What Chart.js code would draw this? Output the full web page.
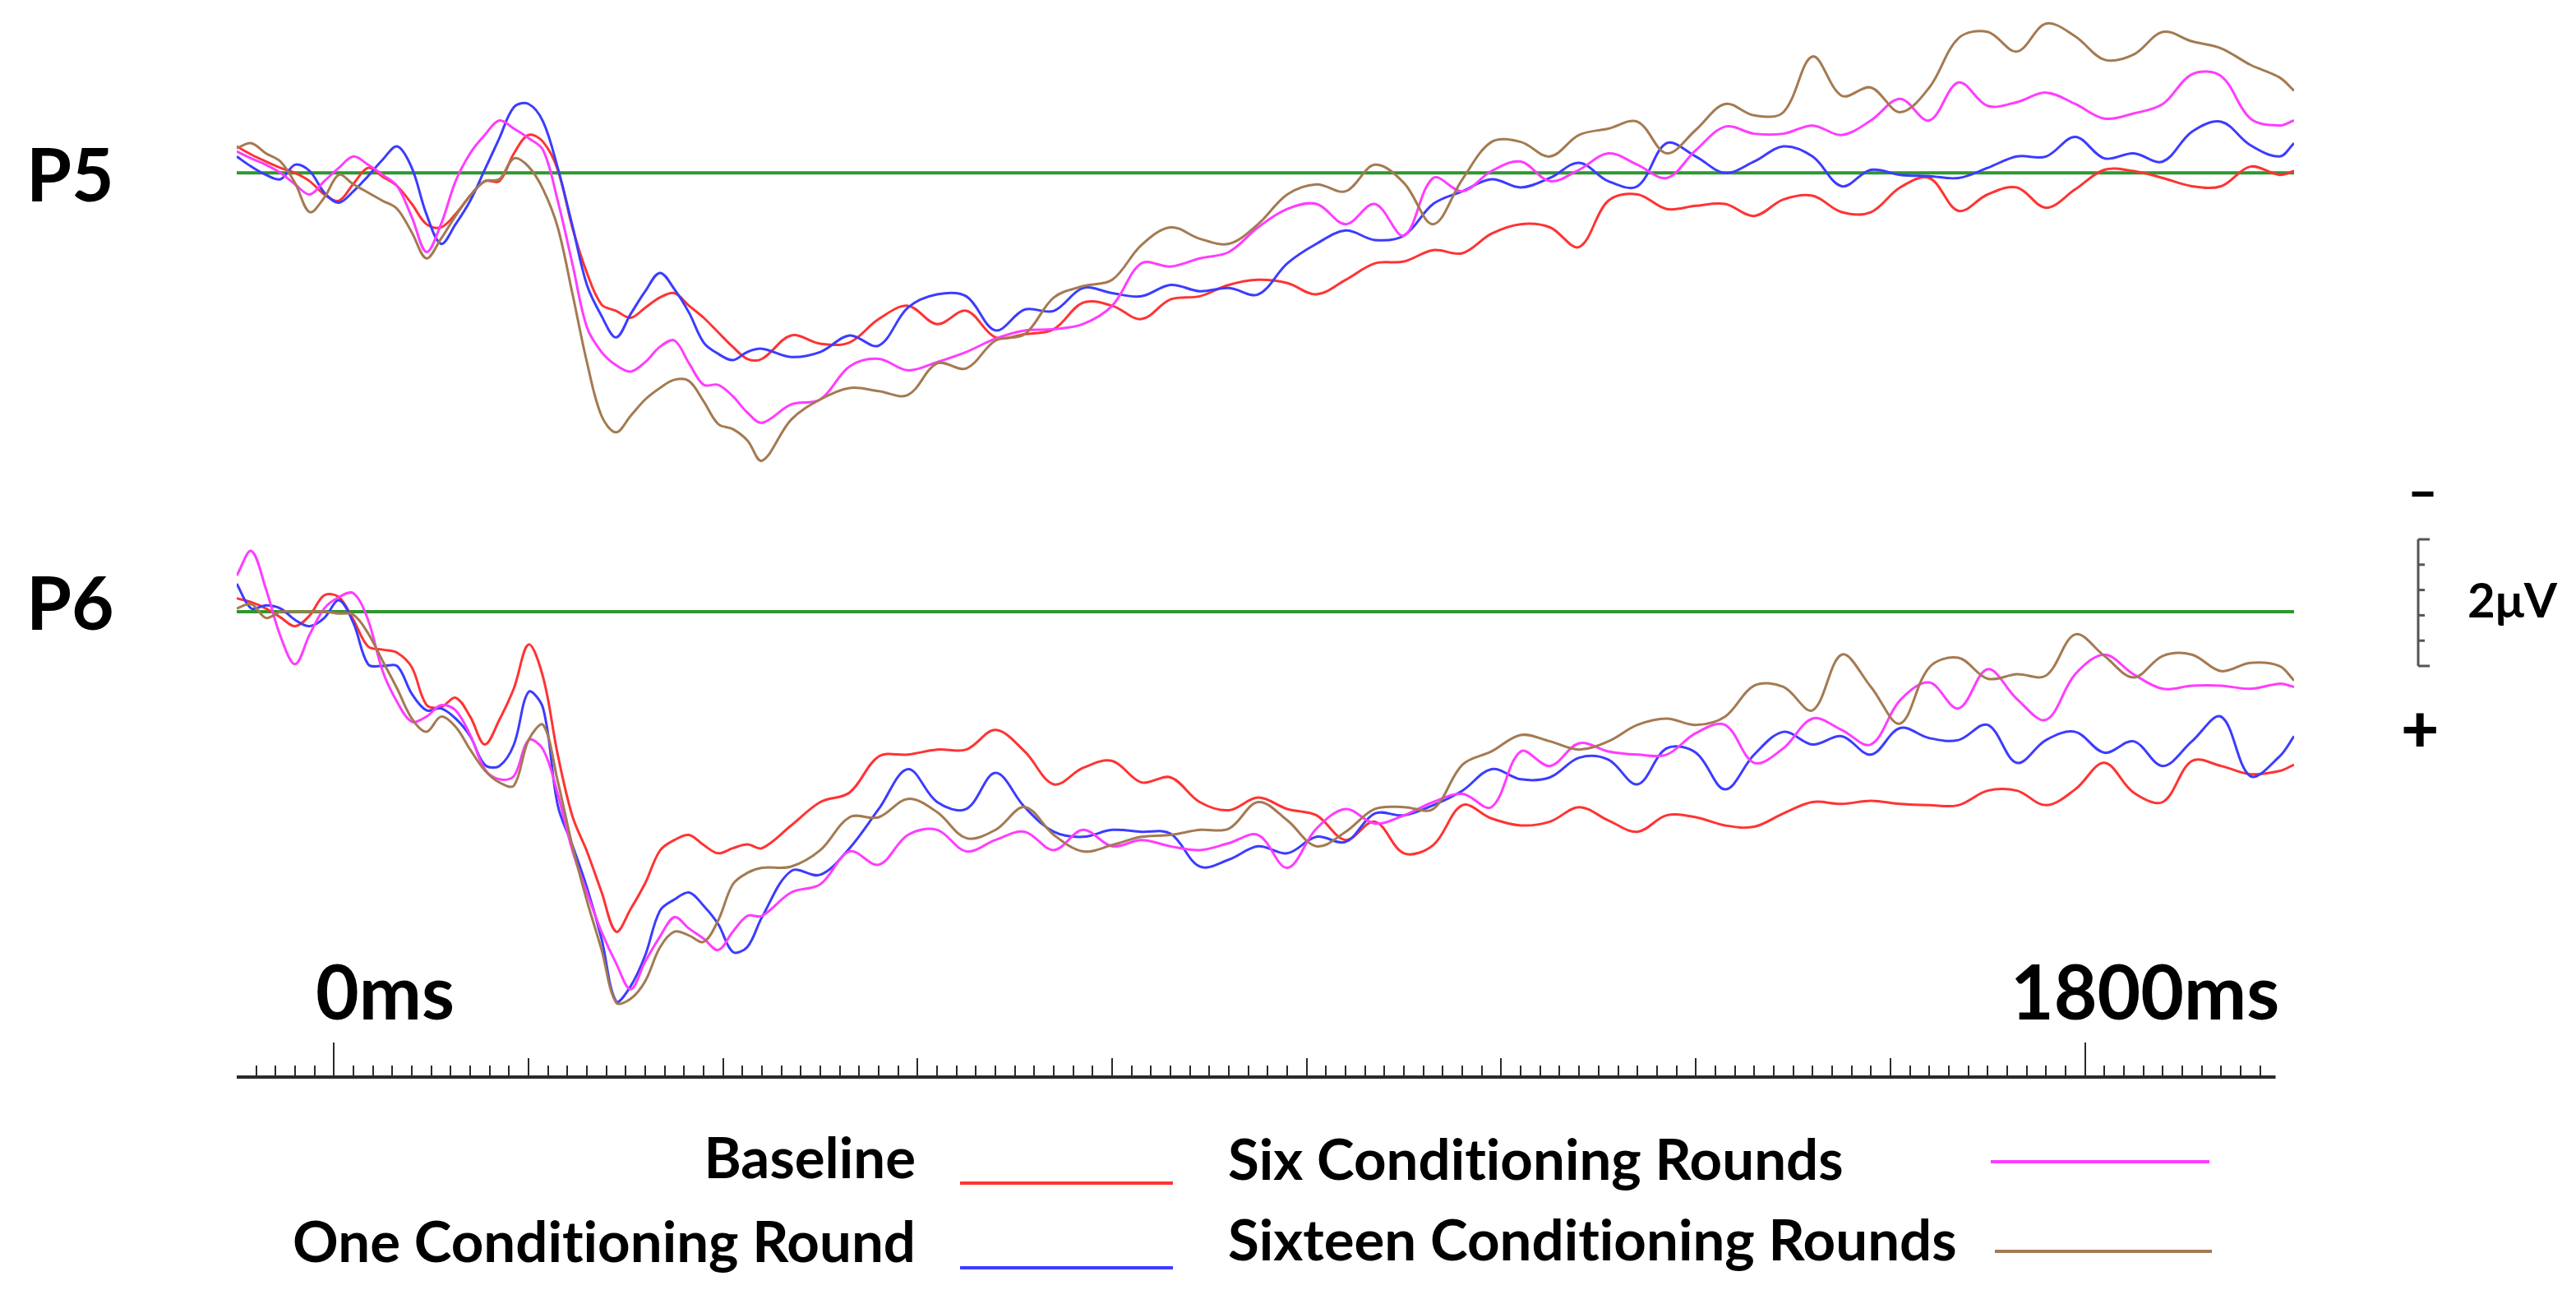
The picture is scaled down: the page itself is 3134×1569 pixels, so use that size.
<!DOCTYPE html>
<html>
<head>
<meta charset="utf-8">
<title>P5 / P6 waveforms</title>
<script src="https://cdn.jsdelivr.net/npm/chart.js@4.4.1/dist/chart.umd.min.js"></script>
<style>
  html, body { margin: 0; padding: 0; background: #fff; }
  #page {
    position: relative; width: 3134px; height: 1569px; overflow: hidden; background: #fff;
    font-family: Lato, "Open Sans", sans-serif; font-weight: 700; color: #000;
    font-variant-ligatures: none;
  }
  #page canvas { position: absolute; }
  .lbl { position: absolute; line-height: 1; white-space: nowrap; }
  .key { position: absolute; height: 4px; }
</style>
</head>
<body>
<div id="page">
  <canvas id="p5" width="2503" height="577" style="left:288px; top:18px"></canvas>
  <canvas id="p6" width="2503" height="577" style="left:288px; top:667px"></canvas>
  <canvas id="ruler" width="2503" height="90" style="left:288px; top:1240px"></canvas>
  <canvas id="bar" width="40" height="166" style="left:2930px; top:650px"></canvas>
</div>
<script>
// Time points (ms) shared by every waveform; denser where the early components move fast.
const times = [-100, -85, -70, -55, -40, -25, -10, 5, 20, 35, 50, 65, 80, 95, 110, 125, 140, 155, 170,
    185, 200, 215, 230, 245, 260, 275, 290, 305, 320, 335, 350, 365, 380, 395, 410, 425, 440,
    470, 500, 530, 560, 590, 620, 650, 680, 710, 740, 770, 800, 830, 860, 890, 920, 950, 980, 1010,
    1040, 1070, 1100, 1130, 1160, 1190, 1220, 1250, 1280, 1310, 1340, 1370, 1400, 1430, 1460, 1490, 1520,
    1550, 1580, 1610, 1640, 1670, 1700, 1730, 1760, 1790, 1820, 1850, 1880, 1910, 1940, 1970, 2000, 2015];

const seriesNames = ['Baseline', 'One Conditioning Round', 'Six Conditioning Rounds', 'Sixteen Conditioning Rounds'];
const seriesColors = ['#ff3333', '#3c3cff', '#ff3cff', '#a47a52'];
const zeroColor = '#2f962f';

// Amplitudes in microvolts (negative plotted upward).
const p5Baseline = [-0.42, -0.29, -0.18, -0.08, 0.00, 0.13, 0.34, 0.44, 0.17, -0.08,
    0.06, 0.21, 0.49, 0.81, 0.86, 0.65, 0.36, 0.13, 0.13, -0.31,
    -0.60, -0.49, -0.05, 0.86, 1.58, 2.08, 2.18, 2.29, 2.13, 1.97,
    1.90, 2.10, 2.29, 2.52, 2.75, 2.94, 2.94,
    2.57, 2.70, 2.68, 2.31, 2.10, 2.39, 2.18, 2.60, 2.55, 2.47, 2.05,
    2.10, 2.31, 2.00, 1.95, 1.77, 1.69, 1.74, 1.92, 1.69, 1.43,
    1.40, 1.22, 1.27, 0.96, 0.81, 0.86, 1.17, 0.44, 0.34, 0.57,
    0.52, 0.49, 0.68, 0.42, 0.36, 0.62, 0.62, 0.23, 0.08, 0.60,
    0.34, 0.23, 0.55, 0.26, -0.05, -0.03, 0.08, 0.21, 0.21, -0.10,
    0.03, -0.03];
const p5One = [-0.26, -0.10, 0.03, 0.10, -0.13, -0.03, 0.31, 0.47, 0.29, 0.05,
    -0.21, -0.42, -0.08, 0.65, 1.12, 0.81, 0.44, -0.05, -0.55, -1.04,
    -1.09, -0.81, -0.08, 0.83, 1.77, 2.26, 2.60, 2.23, 1.87, 1.58,
    1.84, 2.21, 2.68, 2.86, 2.96, 2.83, 2.78,
    2.91, 2.83, 2.57, 2.73, 2.13, 1.92, 1.95, 2.49, 2.16, 2.18, 1.82,
    1.90, 1.95, 1.77, 1.87, 1.82, 1.92, 1.43, 1.12, 0.91, 1.06,
    0.99, 0.49, 0.29, 0.10, 0.23, 0.08, -0.16, 0.13, 0.21, -0.47,
    -0.26, 0.00, -0.18, -0.42, -0.26, 0.21, -0.05, 0.03, 0.05, 0.08,
    -0.08, -0.26, -0.26, -0.57, -0.23, -0.31, -0.18, -0.65, -0.81, -0.44,
    -0.26, -0.47];
const p5Six = [-0.34, -0.23, -0.13, 0.00, 0.18, 0.34, 0.13, -0.08, -0.26, -0.13,
    0.03, 0.21, 0.70, 1.25, 0.81, 0.13, -0.31, -0.60, -0.83, -0.70,
    -0.55, -0.36, 0.44, 1.43, 2.44, 2.83, 3.04, 3.14, 2.99, 2.75,
    2.65, 3.01, 3.35, 3.35, 3.53, 3.79, 3.95,
    3.66, 3.58, 3.06, 2.94, 3.12, 2.99, 2.83, 2.62, 2.49, 2.47, 2.39,
    2.10, 1.43, 1.48, 1.35, 1.25, 0.86, 0.57, 0.49, 0.81, 0.49,
    0.99, 0.08, 0.29, -0.03, -0.18, 0.13, -0.05, -0.31, -0.13, 0.08,
    -0.36, -0.73, -0.62, -0.62, -0.75, -0.60, -0.83, -1.17, -0.83, -1.43,
    -1.06, -1.12, -1.27, -1.09, -0.86, -0.94, -1.09, -1.56, -1.53, -0.86,
    -0.75, -0.83];
const p5Sixteen = [-0.39, -0.47, -0.31, -0.18, 0.16, 0.62, 0.39, 0.03, 0.18, 0.31,
    0.44, 0.57, 0.94, 1.35, 1.04, 0.68, 0.36, 0.13, 0.10, -0.23,
    -0.10, 0.26, 0.86, 1.90, 2.99, 3.84, 4.10, 3.84, 3.58, 3.40,
    3.27, 3.29, 3.61, 3.97, 4.05, 4.23, 4.55,
    3.90, 3.58, 3.40, 3.45, 3.51, 3.01, 3.09, 2.65, 2.55, 1.97, 1.79,
    1.69, 1.14, 0.86, 1.04, 1.12, 0.81, 0.34, 0.18, 0.29, -0.13,
    0.16, 0.81, 0.10, -0.49, -0.49, -0.26, -0.60, -0.70, -0.81, -0.31,
    -0.68, -1.09, -0.91, -0.96, -1.84, -1.22, -1.35, -0.96, -1.35, -2.13,
    -2.23, -1.92, -2.36, -2.16, -1.79, -1.87, -2.23, -2.08, -1.97, -1.71,
    -1.51, -1.30];

const p6Baseline = [-0.21, -0.15, -0.05, 0.09, 0.23, 0.06, -0.26, -0.23, 0.13, 0.55,
    0.60, 0.65, 0.88, 1.47, 1.51, 1.36, 1.66, 2.10, 1.71, 1.21,
    0.52, 1.04, 2.26, 3.23, 3.79, 4.43, 5.06, 4.70, 4.29, 3.78,
    3.61, 3.53, 3.69, 3.82, 3.74, 3.68, 3.74,
    3.38, 3.01, 2.86, 2.29, 2.26, 2.18, 2.18, 1.87, 2.21, 2.73, 2.47,
    2.36, 2.70, 2.62, 3.01, 3.14, 2.94, 3.12, 3.22, 3.61, 3.32,
    3.82, 3.69, 3.06, 3.27, 3.38, 3.32, 3.09, 3.30, 3.48, 3.22,
    3.25, 3.38, 3.40, 3.19, 3.01, 3.04, 2.99, 3.04, 3.06, 3.06,
    2.83, 2.83, 3.06, 2.81, 2.39, 2.86, 3.01, 2.36, 2.44, 2.57,
    2.52, 2.42];
const p6One = [-0.44, -0.05, -0.10, -0.05, 0.13, 0.23, 0.10, -0.18, 0.18, 0.83,
    0.86, 0.86, 1.30, 1.56, 1.53, 1.69, 1.97, 2.42, 2.44, 2.10,
    1.27, 1.53, 3.06, 3.69, 4.36, 5.17, 6.16, 5.92, 5.43, 4.73,
    4.55, 4.44, 4.65, 4.94, 5.38, 5.30, 4.83,
    4.10, 4.16, 3.74, 3.12, 2.49, 3.01, 3.12, 2.55, 3.09, 3.48, 3.56,
    3.45, 3.48, 3.51, 4.03, 3.92, 3.71, 3.82, 3.56, 3.64, 3.19,
    3.22, 3.06, 2.83, 2.49, 2.65, 2.62, 2.31, 2.34, 2.73, 2.16,
    2.23, 2.81, 2.26, 1.90, 2.10, 1.97, 2.26, 1.84, 2.00, 2.03,
    1.79, 2.39, 2.03, 1.90, 2.23, 2.05, 2.44, 2.05, 1.66, 2.60,
    2.29, 1.97];
const p6Six = [-0.57, -0.96, -0.36, 0.39, 0.83, 0.36, -0.05, -0.23, -0.29, 0.13,
    0.94, 1.43, 1.74, 1.66, 1.48, 1.56, 1.95, 2.49, 2.65, 2.60,
    2.03, 2.18, 2.88, 3.77, 4.44, 5.06, 5.56, 5.97, 5.53, 5.14,
    4.83, 5.01, 5.17, 5.35, 5.06, 4.81, 4.81,
    4.44, 4.31, 3.79, 4.00, 3.53, 3.45, 3.79, 3.61, 3.48, 3.77, 3.45,
    3.71, 3.61, 3.71, 3.77, 3.66, 3.53, 4.05, 3.43, 3.12, 3.35,
    3.22, 3.01, 2.88, 3.09, 2.21, 2.44, 2.08, 2.21, 2.26, 2.26,
    1.92, 1.79, 2.39, 2.16, 1.69, 1.87, 2.10, 1.40, 1.12, 1.53,
    0.91, 1.38, 1.71, 0.99, 0.68, 0.99, 1.22, 1.17, 1.17, 1.22,
    1.14, 1.19];
const p6Sixteen = [-0.05, -0.12, 0.10, 0.00, 0.00, 0.00, 0.00, 0.03, 0.05, 0.34,
    0.78, 1.22, 1.69, 1.90, 1.66, 1.82, 2.18, 2.51, 2.70, 2.75,
    2.03, 1.79, 2.68, 3.70, 4.57, 5.34, 6.18, 6.12, 5.84, 5.31,
    5.06, 5.12, 5.22, 4.88, 4.31, 4.13, 4.05,
    4.03, 3.77, 3.25, 3.25, 2.96, 3.17, 3.58, 3.45, 3.09, 3.53, 3.79,
    3.69, 3.56, 3.53, 3.45, 3.43, 3.01, 3.30, 3.71, 3.48, 3.12,
    3.09, 3.12, 2.42, 2.21, 1.95, 2.05, 2.18, 2.05, 1.79, 1.69,
    1.79, 1.66, 1.17, 1.19, 1.56, 0.68, 1.19, 1.77, 0.88, 0.73,
    1.06, 0.99, 1.01, 0.36, 0.70, 1.04, 0.70, 0.68, 0.94, 0.81,
    0.86, 1.09];

// Time ruler (ms) and voltage scale bar (µV).
const rulerRange = [-100, 1996];
const rulerStep = 20;
const rulerMidStep = 200;
const rulerLabelled = [0, 1800];
const scaleBarSpan = 2;
const scaleBarStep = 0.4;

const xMin = -100;
const xMax = 2015;

function panelChart(id, series, yMin, yMax) {
    const datasets = series.map((vals, i) => ({
        label: seriesNames[i],
        data: times.map((t, k) => ({ x: t, y: vals[k] })),
        borderColor: seriesColors[i],
        borderWidth: 3,
        pointRadius: 0,
        tension: 0.35,
        order: 4 - i
    }));
    datasets.push({
        label: 'zero',
        data: [{ x: times[0], y: 0 }, { x: times[times.length - 1], y: 0 }],
        borderColor: zeroColor,
        borderWidth: 4,
        pointRadius: 0,
        order: 10
    });
    return new Chart(document.getElementById(id), {
        type: 'line',
        data: { datasets },
        options: {
            responsive: false,
            animation: false,
            devicePixelRatio: 1,
            layout: { padding: 0 },
            plugins: { legend: { display: false }, tooltip: { enabled: false } },
            scales: {
                x: { type: 'linear', min: xMin, max: xMax, display: false },
                y: { min: yMin, max: yMax, reverse: true, display: false }
            }
        }
    });
}

const rulerPlugin = {
    id: 'ruler',
    afterDraw(chart) {
        const { ctx, chartArea, scales } = chart;
        const x = scales.x;
        const y0 = chartArea.bottom;
        ctx.save();
        ctx.strokeStyle = '#2a2a2a';
        ctx.lineWidth = 4;
        ctx.beginPath();
        ctx.moveTo(x.getPixelForValue(rulerRange[0]), y0);
        ctx.lineTo(x.getPixelForValue(rulerRange[1]), y0);
        ctx.stroke();
        ctx.lineWidth = 2;
        for (let t = rulerRange[0] + rulerStep; t < rulerRange[1]; t += rulerStep) {
            const len = rulerLabelled.includes(t) ? 42 : (t % rulerMidStep === 0 ? 23 : 14);
            const px = Math.round(x.getPixelForValue(t));
            ctx.beginPath();
            ctx.moveTo(px, y0);
            ctx.lineTo(px, y0 - len);
            ctx.stroke();
        }
        ctx.restore();
    }
};

const scaleBarPlugin = {
    id: 'scaleBar',
    afterDraw(chart) {
        const { ctx, chartArea, scales } = chart;
        const y = scales.y;
        const x0 = chartArea.left;
        ctx.save();
        ctx.strokeStyle = '#555';
        ctx.lineWidth = 3;
        ctx.beginPath();
        ctx.moveTo(x0, y.getPixelForValue(0));
        ctx.lineTo(x0, y.getPixelForValue(scaleBarSpan));
        ctx.stroke();
        const n = Math.round(scaleBarSpan / scaleBarStep);
        for (let i = 0; i <= n; i++) {
            const py = y.getPixelForValue(i * scaleBarStep);
            const len = (i === 0 || i === n) ? 14 : 8;
            ctx.beginPath();
            ctx.moveTo(x0, py);
            ctx.lineTo(x0 + len, py);
            ctx.stroke();
        }
        ctx.restore();
    }
};

panelChart('p5', [p5Baseline, p5One, p5Six, p5Sixteen], -2.5, 5);
panelChart('p6', [p6Baseline, p6One, p6Six, p6Sixteen], -1, 6.5);

new Chart(document.getElementById('ruler'), {
    type: 'line',
    data: { datasets: [] },
    options: {
        responsive: false, animation: false, devicePixelRatio: 1,
        layout: { padding: { left: 0, right: 0, top: 0, bottom: 20 } },
        plugins: { legend: { display: false }, tooltip: { enabled: false } },
        scales: {
            x: { type: 'linear', min: xMin, max: xMax, display: false },
            y: { min: 0, max: 1, display: false }
        }
    },
    plugins: [rulerPlugin]
});

new Chart(document.getElementById('bar'), {
    type: 'line',
    data: { datasets: [] },
    options: {
        responsive: false, animation: false, devicePixelRatio: 1,
        layout: { padding: { left: 12, right: 0, top: 6, bottom: 6 } },
        plugins: { legend: { display: false }, tooltip: { enabled: false } },
        scales: {
            x: { type: 'linear', min: 0, max: 1, display: false },
            y: { min: 0, max: scaleBarSpan, reverse: true, display: false }
        }
    },
    plugins: [scaleBarPlugin]
});

// Text labels and legend
const page = document.getElementById('page');
function addText(text, style) {
    const el = document.createElement('div');
    el.className = 'lbl';
    el.textContent = text;
    Object.assign(el.style, style);
    page.appendChild(el);
}
function addKey(color, left, top, width) {
    const el = document.createElement('div');
    el.className = 'key';
    Object.assign(el.style, { background: color, left: left + 'px', top: top + 'px', width: width + 'px' });
    page.appendChild(el);
}

addText('P5', { left: '32px', top: '166px', fontSize: '89px' });
addText('P6', { left: '32px', top: '687px', fontSize: '89px' });
addText(rulerLabelled[0] + 'ms', { left: '384px', top: '1159px', fontSize: '91px' });
addText(rulerLabelled[1] + 'ms', { left: '2446px', top: '1159px', fontSize: '91px' });
addText('\u2013', { left: '2929px', top: '564px', fontSize: '64px', fontWeight: '900' });
addText('+', { left: '2921px', top: '844px', fontSize: '80px', fontWeight: '900' });
addText(scaleBarSpan + '\u03bcV', { left: '3002px', top: '700px', fontSize: '58px' });

const legendSlots = [
    { right: 1114, top: 1372, keyLeft: 1168, keyTop: 1437, keyWidth: 259 },
    { right: 1114, top: 1474, keyLeft: 1168, keyTop: 1540, keyWidth: 259 },
    { left: 1494, top: 1374, keyLeft: 2422, keyTop: 1411, keyWidth: 266 },
    { left: 1494, top: 1472, keyLeft: 2427, keyTop: 1520, keyWidth: 264 }
];
seriesNames.forEach((name, i) => {
    const s = legendSlots[i];
    const style = { top: s.top + 'px', fontSize: '69px' };
    if (s.right !== undefined) style.right = (3134 - s.right) + 'px';
    else style.left = s.left + 'px';
    addText(name, style);
    addKey(seriesColors[i], s.keyLeft, s.keyTop, s.keyWidth);
});
</script>
</body>
</html>
